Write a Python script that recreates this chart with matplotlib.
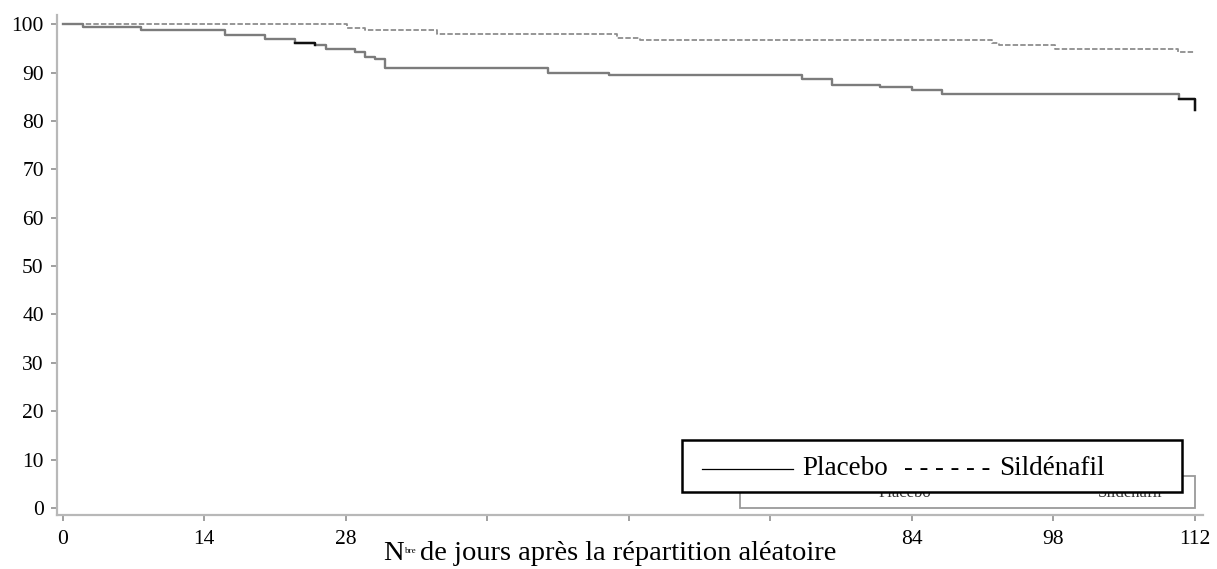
import matplotlib
matplotlib.use('Agg')
import matplotlib.pyplot as plt
from matplotlib.patches import Rectangle

plt.rcParams['font.family'] = ['Liberation Serif', 'DejaVu Serif']

# ---- data ----
placebo_days = [0, 2.0, 7.8, 16.1, 20.0, 23.0, 25.0, 26.1, 28.9, 29.9, 30.9, 31.9,
                48.0, 54.0, 73.1, 76.1, 80.9, 84.0, 87.0, 110.4, 112.0]
placebo_surv = [100, 99.4, 98.8, 97.7, 97.0, 96.2, 95.7, 94.8, 94.2, 93.2, 92.8, 91.0,
                90.0, 89.5, 88.6, 87.5, 87.0, 86.5, 85.5, 84.6, 82.3]
sild_days = [0, 28.1, 29.9, 37.0, 54.8, 57.1, 91.9, 92.6, 98.2, 110.3, 112.0]
sild_surv = [100, 99.3, 98.8, 97.9, 97.2, 96.8, 96.2, 95.7, 94.8, 94.3, 94.3]
placebo_dark_ranges = [(23.0, 25.0), (110.4, 112.0)]

x_ticks = [0, 14, 28, 42, 56, 70, 84, 98, 112]
x_tick_labels = ['0', '14', '28', '', '', '', '84', '98', '112']
y_ticks = [0, 10, 20, 30, 40, 50, 60, 70, 80, 90, 100]
legend_labels = ['Placebo', 'Sildénafil']
xlabel_main = 'N'
xlabel_sup = 'bre'
xlabel_rest = 'de jours après la répartition aléatoire'

W, H = 1217, 569
fig = plt.figure(figsize=(W / 100, H / 100), dpi=100)
ax = fig.add_axes([57 / W, 1 - 515 / H, 1146 / W, 500 / H])

ax.step(placebo_days, placebo_surv, where='post', color='#7c7c7c', lw=1.7, zorder=3)
for a, b in placebo_dark_ranges:
    sub_d = [d for d in placebo_days if a <= d <= b]
    sub_s = [s for d, s in zip(placebo_days, placebo_surv) if a <= d <= b]
    ax.step(sub_d, sub_s, where='post', color='#111111', lw=1.7, zorder=4)
ax.step(sild_days, sild_surv, where='post', color='#8e8e8e', lw=1.3,
        linestyle=(0, (3, 1.2)), zorder=2)

ax.set_xlim(-0.55, 112.8)
ax.set_ylim(-1.45, 101.9)
ax.set_xticks(x_ticks)
ax.set_xticklabels(x_tick_labels)
ax.set_yticks(y_ticks)

for s in ['top', 'right']:
    ax.spines[s].set_visible(False)
for s in ['left', 'bottom']:
    ax.spines[s].set_color('#b8b8b8')
    ax.spines[s].set_linewidth(1.6)
ax.tick_params(axis='both', colors='#a0a0a0', width=1.4, length=4.5,
               labelcolor='black', labelsize=15.5)
ax.tick_params(axis='x', pad=6.5)
ax.tick_params(axis='y', pad=5)

# bracket with small labels, partly hidden by the legend box
ax.add_patch(Rectangle((67.0, 0.0), 45.0, 6.6, fill=False, edgecolor='#9a9a9a',
                       lw=1.3, zorder=2))
ax.text(83.3, 2.3, legend_labels[0], fontsize=12, color='#333333', ha='center',
        va='baseline', zorder=2)
ax.text(105.6, 2.3, legend_labels[1], fontsize=12, color='#333333', ha='center',
        va='baseline', zorder=2)

# legend box
def axx(px):
    return (px - 57) / 1146

def axy(py):
    return (515 - py) / 500

ax.add_patch(Rectangle((axx(682), axy(492)), axx(1182) - axx(682), axy(440) - axy(492),
                       transform=ax.transAxes, facecolor='white', edgecolor='black',
                       lw=1.8, zorder=6, clip_on=False))
ax.plot([axx(702), axx(793)], [axy(469), axy(469)], transform=ax.transAxes,
        color='black', lw=0.9, zorder=7, clip_on=False)
ax.text(axx(802), axy(475), legend_labels[0], transform=ax.transAxes, fontsize=19.5,
        va='baseline', ha='left', zorder=7)
ax.text(axx(904), axy(475), '- - - - - -', transform=ax.transAxes, fontsize=19,
        va='baseline', ha='left', zorder=7)
ax.text(axx(999), axy(475), legend_labels[1], transform=ax.transAxes, fontsize=19.5,
        va='baseline', ha='left', zorder=7)

# x label with small superscript
fig.canvas.draw()
r = fig.canvas.get_renderer()
base_y = 1 - 560 / H
t1 = fig.text(383 / W, base_y, xlabel_main, fontsize=20.5, va='baseline', ha='left')
bb1 = t1.get_window_extent(r)
t2 = fig.text((bb1.x1 + 1) / W, base_y + 7 / H, xlabel_sup, fontsize=6.5,
              va='baseline', ha='left')
bb2 = t2.get_window_extent(r)
fig.text((bb2.x1 + 4) / W, base_y, xlabel_rest, fontsize=20.5, va='baseline', ha='left')

fig.savefig('out.png', dpi=100)
